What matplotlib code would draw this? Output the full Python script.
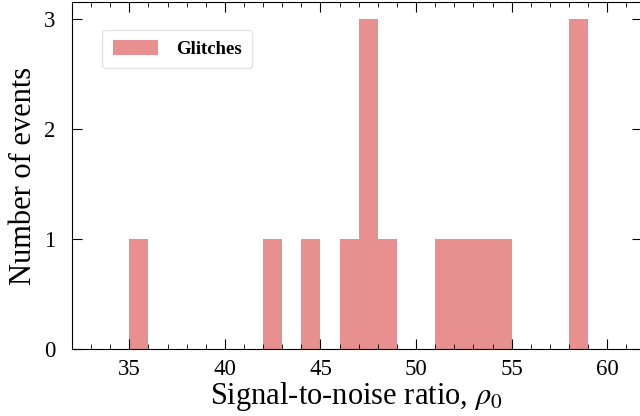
import numpy as np
import matplotlib.pyplot as plt

# SNR values of glitch events
snr = [35.5, 42.5, 44.5, 46.5, 47.3, 47.5, 47.7, 48.5,
       51.5, 52.5, 53.5, 54.5, 58.3, 58.5, 58.7]
bin_edges = np.arange(35, 60, 1)

plt.rcParams['font.family'] = ['Liberation Serif', 'DejaVu Serif']
plt.rcParams['mathtext.fontset'] = 'stix'

fig = plt.figure(figsize=(6.4, 4.16), dpi=100)
ax = fig.add_axes([0.1125, 0.161, 0.89, 0.834])

ax.hist(snr, bins=bin_edges, color='#e88f8f', label='Glitches')

ax.set_xlim(32, 61.8)
ax.set_ylim(0, 3.15)
ax.set_xticks([35, 40, 45, 50, 55, 60])
ax.set_xticks(np.arange(32, 62, 1), minor=True)
ax.set_yticks([0, 1, 2, 3])
ax.tick_params(which='both', direction='in', top=True, right=True, labelsize=16.5)
ax.tick_params(which='major', length=7)
ax.tick_params(which='minor', length=3.5)
ax.tick_params(axis='x', which='major', pad=7)
ax.tick_params(axis='y', which='major', pad=12)

ax.set_xlabel(r'Signal-to-noise ratio, $\rho_0$', fontsize=22, labelpad=0)
ax.set_ylabel('Number of events', fontsize=22, labelpad=4)

leg = ax.legend(loc='upper left', prop={'weight': 'bold', 'size': 13.5},
                frameon=True, fancybox=True, borderpad=0.55, handlelength=2.4,
                handleheight=0.85, handletextpad=1.0, borderaxespad=0,
                bbox_to_anchor=(0.053, 0.92))
leg.get_frame().set_edgecolor('#dddddd')

fig.savefig('out.png', dpi=100)
